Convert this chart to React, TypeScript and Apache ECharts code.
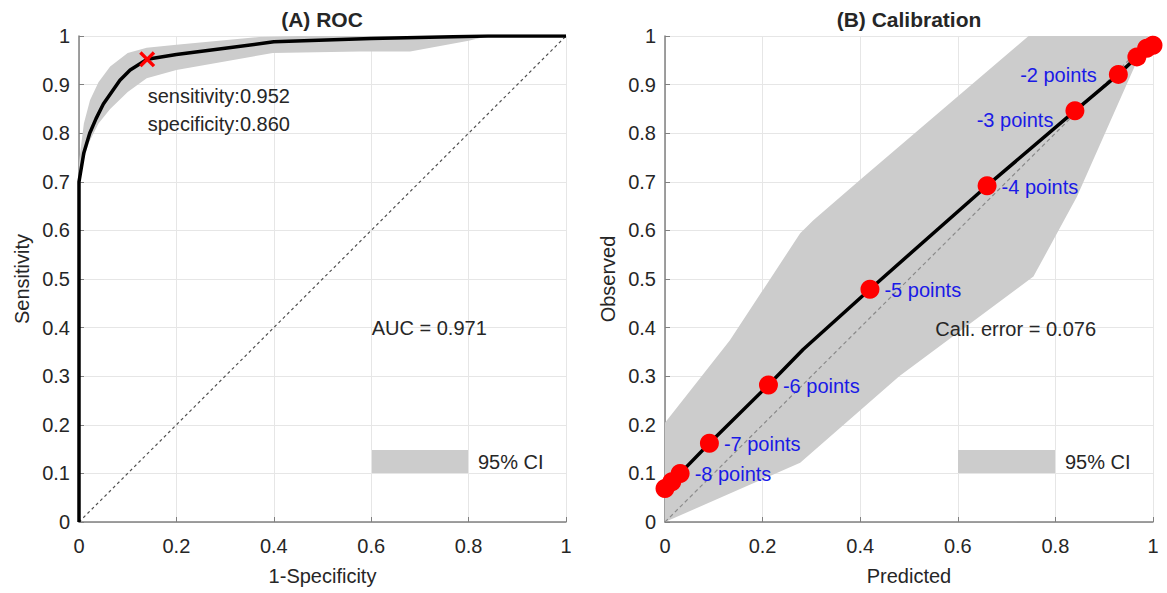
import React, { useEffect, useRef } from "react";
import * as echarts from "echarts";

// ROC curve (1-specificity, sensitivity)
const rocCurve: number[][] = [
  [0, 0], [0, 0.70], [0.01, 0.76], [0.022, 0.80], [0.035, 0.83], [0.05, 0.86],
  [0.084, 0.909], [0.105, 0.93], [0.14, 0.952], [0.2, 0.962], [0.3, 0.975],
  [0.4, 0.988], [0.6, 0.995], [0.84, 1], [1, 1],
];
const rocBandUpper: number[][] = [
  [0, 0.74], [0.01, 0.82], [0.0226, 0.868], [0.04, 0.905], [0.064, 0.937],
  [0.1, 0.965], [0.139, 0.976], [0.2, 0.982], [0.37, 0.998], [0.45, 1], [1, 1],
];
const rocBandLower: number[][] = [
  [0, 0.66], [0.005, 0.73], [0.02, 0.78], [0.04, 0.82], [0.064, 0.85],
  [0.1, 0.885], [0.139, 0.913], [0.2, 0.93], [0.398, 0.965], [0.577, 0.968],
  [0.68, 0.968], [0.8, 0.99], [0.84, 1], [1, 1],
];
const cutPoint: number[] = [0.14, 0.952];

// Calibration (predicted, observed)
const calLine: number[][] = [
  [0, 0.069], [0.014, 0.083], [0.031, 0.10], [0.091, 0.162], [0.212, 0.282],
  [0.283, 0.355], [0.42, 0.479], [0.66, 0.692], [0.84, 0.846], [0.929, 0.921],
  [0.967, 0.957], [0.987, 0.975], [1, 0.981],
];
const calDots: number[][] = [
  [0, 0.069], [0.014, 0.083], [0.031, 0.10], [0.091, 0.162], [0.212, 0.282],
  [0.42, 0.479], [0.66, 0.692], [0.84, 0.846], [0.929, 0.921],
  [0.967, 0.957], [0.987, 0.975], [1, 0.981],
];
const calDotLabels: string[] = [
  "", "", "-8 points", "-7 points", "-6 points", "-5 points", "-4 points",
  "-3 points", "-2 points", "", "", "",
];
const calLabelSide: string[] = [
  "right", "right", "right", "right", "right", "right", "right",
  "left", "left", "right", "right", "right",
];
const calBandUpper: number[][] = [
  [0, 0.204], [0.133, 0.374], [0.277, 0.594], [0.304, 0.621], [0.40, 0.704],
  [0.745, 1], [0.99, 1],
];
const calBandLower: number[][] = [
  [0, 0], [0.277, 0.122], [0.48, 0.30], [0.755, 0.505], [0.844, 0.669], [0.99, 1],
];

const diagonal: number[][] = [[0, 0], [1, 1]];
const rocNotes = [
  { value: [0.14, 0.876], name: "sensitivity:0.952" },
  { value: [0.14, 0.818], name: "specificity:0.860" },
  { value: [0.60, 0.399], name: "AUC = 0.971" },
];
const calNotes = [{ value: [0.553, 0.397], name: "Cali. error = 0.076" }];

const FONT = "Liberation Sans, Arial, sans-serif";
const TXT = "#262626";
const BAND = "#cccccc";
const FS = 20;

const xMarkPath =
  "path://M0,1.5 L1.5,0 L5,3.5 L8.5,0 L10,1.5 L6.5,5 L10,8.5 L8.5,10 L5,6.5 L1.5,10 L0,8.5 L3.5,5 Z";

function bandSeries(upper: number[][], lower: number[][], idx: number) {
  const pts = upper.concat(lower.slice().reverse());
  return {
    type: "custom",
    name: "95% CI",
    xAxisIndex: idx,
    yAxisIndex: idx,
    silent: true,
    itemStyle: { color: BAND },
    data: [[0, 0]],
    z: 1,
    renderItem: (_params: any, api: any) => ({
      type: "polygon",
      shape: { points: pts.map((p) => api.coord(p)) },
      style: { fill: BAND },
    }),
  };
}

function xAxisCfg(idx: number, name: string) {
  return {
    type: "value",
    gridIndex: idx,
    min: 0,
    max: 1,
    interval: 0.2,
    name,
    nameLocation: "middle",
    nameGap: 44,
    nameTextStyle: { fontSize: 20, color: TXT, fontFamily: FONT },
    axisLine: { show: true, lineStyle: { color: "#808080", width: 1.5 } },
    axisTick: { show: true, inside: true, length: 5, lineStyle: { color: "#808080" } },
    axisLabel: { fontSize: FS, color: TXT, fontFamily: FONT, margin: 14 },
    splitLine: { show: true, lineStyle: { color: "#e6e6e6", width: 1 } },
  };
}
function yAxisCfg(idx: number, name: string) {
  return {
    type: "value",
    gridIndex: idx,
    min: 0,
    max: 1,
    interval: 0.1,
    name,
    nameLocation: "middle",
    nameGap: 47,
    nameTextStyle: { fontSize: 20, color: TXT, fontFamily: FONT },
    axisLine: { show: true, lineStyle: { color: "#808080", width: 1.5 } },
    axisTick: { show: true, inside: true, length: 5, lineStyle: { color: "#808080" } },
    axisLabel: { fontSize: FS, color: TXT, fontFamily: FONT, margin: 9 },
    splitLine: { show: true, lineStyle: { color: "#e6e6e6", width: 1 } },
  };
}

function noteSeries(idx: number, data: any[]) {
  return {
    type: "scatter",
    xAxisIndex: idx,
    yAxisIndex: idx,
    data,
    symbolSize: 1,
    silent: true,
    itemStyle: { color: "rgba(0,0,0,0)", opacity: 1 },
    z: 5,
    label: {
      show: true,
      position: "right",
      distance: 0,
      formatter: (p: any) => p.name,
      fontSize: FS,
      color: TXT,
      opacity: 1,
      fontFamily: FONT,
    },
  };
}

export default function App() {
  const ref = useRef<HTMLDivElement>(null);
  useEffect(() => {
    if (!ref.current) return;
    const chart = echarts.init(ref.current, undefined, { renderer: "svg" });
    const option: any = {
      animation: false,
      backgroundColor: "#ffffff",
      title: [
        {
          text: "(A) ROC",
          left: 322,
          top: 9,
          padding: 0,
          textAlign: "center",
          textStyle: { fontSize: 21, fontWeight: "bold", color: TXT, fontFamily: FONT },
        },
        {
          text: "(B) Calibration",
          left: 909,
          top: 9,
          padding: 0,
          textAlign: "center",
          textStyle: { fontSize: 21, fontWeight: "bold", color: TXT, fontFamily: FONT },
        },
      ],
      legend: [
        {
          data: [{ name: "95% CI", icon: "rect", itemStyle: { color: BAND } }],
          left: 372,
          top: 450,
          padding: 0,
          itemWidth: 96,
          itemHeight: 23,
          selectedMode: false,
          textStyle: { fontSize: FS, color: TXT, fontFamily: FONT, padding: [0, 0, 0, 5] },
        },
        {
          data: [{ name: "95% CI", icon: "rect", itemStyle: { color: BAND } }],
          left: 958,
          top: 450,
          padding: 0,
          itemWidth: 97,
          itemHeight: 23,
          selectedMode: false,
          textStyle: { fontSize: FS, color: TXT, fontFamily: FONT, padding: [0, 0, 0, 5] },
        },
      ],
      grid: [
        { left: 79, width: 487, top: 36, height: 486 },
        { left: 665, width: 488, top: 36, height: 486 },
      ],
      xAxis: [xAxisCfg(0, "1-Specificity"), xAxisCfg(1, "Predicted")],
      yAxis: [yAxisCfg(0, "Sensitivity"), yAxisCfg(1, "Observed")],
      series: [
        bandSeries(rocBandUpper, rocBandLower, 0),
        {
          type: "line",
          xAxisIndex: 0,
          yAxisIndex: 0,
          data: diagonal,
          symbol: "none",
          silent: true,
          z: 2,
          lineStyle: { color: "#505050", width: 1.2, type: [3, 3] },
        },
        {
          type: "line",
          xAxisIndex: 0,
          yAxisIndex: 0,
          data: rocCurve,
          symbol: "none",
          silent: true,
          z: 3,
          lineStyle: { color: "#000000", width: 3.5 },
        },
        {
          type: "scatter",
          xAxisIndex: 0,
          yAxisIndex: 0,
          data: [cutPoint],
          symbol: xMarkPath,
          symbolSize: 16,
          silent: true,
          z: 4,
          itemStyle: { color: "#ff0000", opacity: 1 },
        },
        noteSeries(0, rocNotes),
        bandSeries(calBandUpper, calBandLower, 1),
        {
          type: "line",
          xAxisIndex: 1,
          yAxisIndex: 1,
          data: diagonal,
          symbol: "none",
          silent: true,
          z: 2,
          lineStyle: { color: "#8a8a8a", width: 1.2, type: [4, 3] },
        },
        {
          type: "line",
          xAxisIndex: 1,
          yAxisIndex: 1,
          data: calLine,
          symbol: "none",
          silent: true,
          z: 3,
          lineStyle: { color: "#000000", width: 3.5 },
        },
        {
          type: "scatter",
          xAxisIndex: 1,
          yAxisIndex: 1,
          data: calDots.map((p, i) => ({
            value: p,
            name: calDotLabels[i],
            label: {
              position: calLabelSide[i],
              distance: calLabelSide[i] === "left" ? 12 : 5,
              offset: calLabelSide[i] === "left" && i === 7 ? [0, 9] : [0, 1],
            },
          })),
          symbol: "circle",
          symbolSize: 19,
          silent: true,
          z: 4,
          itemStyle: { color: "#ff0000", opacity: 1 },
          label: {
            show: true,
            formatter: (p: any) => p.name,
            fontSize: FS,
            color: "#1a1ae6",
            fontFamily: FONT,
          },
        },
        noteSeries(1, calNotes),
      ],
    };
    chart.setOption(option);
    return () => chart.dispose();
  }, []);
  return (
    <div
      ref={ref}
      style={{ position: "fixed", left: 0, top: 0, width: 1167, height: 593, background: "#fff" }}
    />
  );
}
